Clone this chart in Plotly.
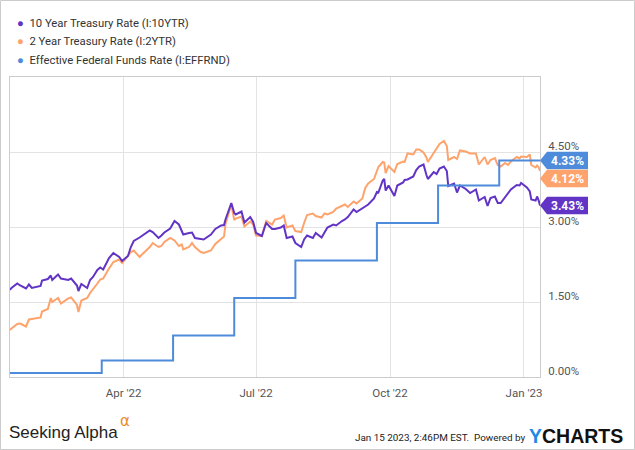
import plotly.graph_objects as go

# ---------------- data ----------------
t10_dates = ["2022-01-13","2022-01-14","2022-01-18","2022-01-20","2022-01-24","2022-01-26","2022-01-28",
 "2022-02-01","2022-02-03","2022-02-04","2022-02-08","2022-02-10","2022-02-11","2022-02-15","2022-02-17",
 "2022-02-22","2022-02-24","2022-02-28","2022-03-01","2022-03-03","2022-03-07","2022-03-09","2022-03-11",
 "2022-03-14","2022-03-16","2022-03-18","2022-03-22","2022-03-25","2022-03-29","2022-03-31","2022-04-04",
 "2022-04-06","2022-04-08","2022-04-12","2022-04-14","2022-04-19","2022-04-21","2022-04-25","2022-04-27",
 "2022-04-29","2022-05-03","2022-05-06","2022-05-09","2022-05-11","2022-05-12","2022-05-16","2022-05-18",
 "2022-05-20","2022-05-24","2022-05-26","2022-05-31","2022-06-02","2022-06-03","2022-06-07","2022-06-09",
 "2022-06-10","2022-06-13","2022-06-14","2022-06-16","2022-06-17","2022-06-21","2022-06-23","2022-06-27",
 "2022-06-29","2022-07-01","2022-07-05","2022-07-07","2022-07-08","2022-07-12","2022-07-14","2022-07-18",
 "2022-07-20","2022-07-22","2022-07-26","2022-07-28","2022-08-01","2022-08-03","2022-08-05","2022-08-09",
 "2022-08-11","2022-08-15","2022-08-17","2022-08-19","2022-08-23","2022-08-25","2022-08-29","2022-08-31",
 "2022-09-02","2022-09-06","2022-09-08","2022-09-12","2022-09-14","2022-09-16","2022-09-20","2022-09-22",
 "2022-09-23","2022-09-26","2022-09-27","2022-09-28","2022-09-30","2022-10-04","2022-10-06","2022-10-10",
 "2022-10-11","2022-10-13","2022-10-17","2022-10-19","2022-10-21","2022-10-24","2022-10-26","2022-10-27",
 "2022-10-31","2022-11-02","2022-11-04","2022-11-07","2022-11-09","2022-11-10","2022-11-14","2022-11-16",
 "2022-11-18","2022-11-22","2022-11-25","2022-11-29","2022-12-01","2022-12-05","2022-12-07","2022-12-09",
 "2022-12-12","2022-12-14","2022-12-16","2022-12-19","2022-12-21","2022-12-23","2022-12-27","2022-12-29",
 "2022-12-30","2023-01-03","2023-01-05","2023-01-06","2023-01-09","2023-01-10","2023-01-11","2023-01-12"]
t10_values = [1.74,1.78,1.87,1.83,1.77,1.85,1.78,
 1.81,1.82,1.93,1.96,2.03,1.94,2.05,1.97,
 1.94,1.97,1.83,1.72,1.86,1.78,1.94,2.00,
 2.14,2.19,2.15,2.38,2.48,2.40,2.32,2.42,
 2.60,2.72,2.79,2.83,2.93,2.90,2.78,2.83,
 2.89,2.97,3.12,3.05,2.91,2.85,2.88,2.89,
 2.78,2.76,2.75,2.85,2.92,2.96,3.03,3.04,
 3.15,3.37,3.48,3.28,3.25,3.31,3.09,3.20,
 3.10,2.88,2.82,3.00,3.08,2.96,2.96,2.99,
 3.03,2.78,2.81,2.68,2.60,2.75,2.83,2.78,
 2.88,2.79,2.90,2.99,3.05,3.03,3.12,3.15,
 3.20,3.35,3.30,3.37,3.41,3.45,3.57,3.70,
 3.69,3.93,3.96,3.73,3.83,3.62,3.83,3.89,
 3.94,3.95,4.01,4.14,4.21,4.25,4.04,3.96,
 4.10,4.06,4.17,4.21,4.12,3.82,3.87,3.69,
 3.83,3.76,3.68,3.75,3.53,3.60,3.42,3.58,
 3.61,3.48,3.48,3.60,3.68,3.75,3.84,3.83,
 3.88,3.79,3.71,3.55,3.53,3.61,3.54,3.43]

t2_dates = t10_dates
t2_values = [0.94,0.97,1.06,1.07,1.01,1.15,1.16,
 1.18,1.19,1.31,1.36,1.58,1.50,1.58,1.47,
 1.57,1.59,1.44,1.30,1.53,1.58,1.68,1.75,
 1.87,1.95,1.97,2.17,2.30,2.35,2.28,2.42,
 2.50,2.53,2.40,2.46,2.60,2.68,2.60,2.62,
 2.70,2.78,2.73,2.62,2.65,2.55,2.60,2.68,
 2.60,2.50,2.48,2.53,2.63,2.66,2.76,2.81,
 3.06,3.37,3.45,3.14,3.17,3.21,3.01,3.11,
 3.05,2.83,2.82,3.03,3.12,3.05,3.15,3.18,
 3.23,2.99,3.03,2.92,2.90,3.08,3.24,3.27,
 3.22,3.19,3.27,3.25,3.30,3.37,3.43,3.45,
 3.40,3.51,3.47,3.57,3.78,3.87,3.96,4.12,
 4.20,4.30,4.29,4.08,4.22,4.10,4.26,4.31,
 4.30,4.47,4.45,4.55,4.55,4.49,4.39,4.30,
 4.48,4.57,4.66,4.72,4.62,4.34,4.40,4.36,
 4.53,4.51,4.47,4.47,4.25,4.40,4.25,4.34,
 4.38,4.24,4.21,4.28,4.24,4.31,4.40,4.37,
 4.41,4.40,4.45,4.24,4.19,4.23,4.20,4.12]

ff_dates = ["2022-01-13","2022-03-17","2022-05-05","2022-06-16","2022-07-28","2022-09-22",
            "2022-11-03","2022-12-15","2023-01-12"]
ff_values = [0.08,0.33,0.83,1.58,2.33,3.08,3.83,4.33,4.33]

series_names = ["10 Year Treasury Rate (I:10YTR)", "2 Year Treasury Rate (I:2YTR)",
                "Effective Federal Funds Rate (I:EFFRND)"]
x_tickvals = ["2022-04-01", "2022-07-01", "2022-10-01", "2023-01-01"]
x_ticktext = ["Apr '22", "Jul '22", "Oct '22", "Jan '23"]
y_tickvals = [0, 1.5, 3.0, 4.5]
y_ticktext = ["0.00%", "1.50%", "3.00%", "4.50%"]

# ---------------- style ----------------
C10 = "#6234c6"
C2 = "#ffa36c"
CFF = "#4f8bdb"
W, H = 635, 450
ML, MR, MT, MB = 10, 95, 77, 73
PW, PH = W - ML - MR, H - MT - MB
YMAX = 6.0
FONT = "Roboto"

def px_x(px):
    return (px - ML) / PW

def px_y(py):
    return (H - MB - py) / PH

fig = go.Figure()
fig.add_trace(go.Scatter(x=t2_dates, y=t2_values, mode="lines", line=dict(color=C2, width=2),
                         name=series_names[1], hoverinfo="skip"))
fig.add_trace(go.Scatter(x=t10_dates, y=t10_values, mode="lines", line=dict(color=C10, width=2),
                         name=series_names[0], hoverinfo="skip"))
fig.add_trace(go.Scatter(x=ff_dates, y=ff_values, mode="lines", line=dict(color=CFF, width=2, shape="hv"),
                         name=series_names[2], hoverinfo="skip"))

annotations = []
shapes = []

# legend (custom)
for i, (nm, col) in enumerate(zip(series_names, [C10, C2, CFF])):
    yy = 23.5 + i * 18.5
    annotations.append(dict(xref="paper", yref="paper", x=px_x(15), y=px_y(yy), xanchor="left",
                            yanchor="middle", showarrow=False,
                            text=f'<span style="color:{col}">●</span>  {nm}',
                            font=dict(family=FONT, size=11.3, color="#333333")))

# end-value tags
ppu = PH / YMAX
tags = sorted([(t10_values[-1], C10), (t2_values[-1], C2), (ff_values[-1], CFF)], key=lambda t: -t[0])
prev = None
for val, col in tags:
    ypix = val * ppu
    if prev is not None and prev - ypix < 18:
        ypix = prev - 18
    prev = ypix
    off = ypix - val * ppu
    hh = 8.8
    path = (f"M 0 {off:.2f} L 7 {off + hh:.2f} L 48 {off + hh:.2f} "
            f"L 48 {off - hh:.2f} L 7 {off - hh:.2f} Z")
    shapes.append(dict(type="path", xref="paper", yref="y", xsizemode="pixel", ysizemode="pixel",
                       xanchor=1, yanchor=val, path=path, fillcolor=col, line=dict(width=0)))
    annotations.append(dict(xref="paper", yref="y", x=1, y=val, xanchor="center", yanchor="middle",
                            xshift=27, yshift=off, showarrow=False, text=f"<b>{val:.2f}%</b>",
                            font=dict(family=FONT, size=12, color="white")))

# outer border
shapes.append(dict(type="rect", xref="paper", yref="paper", x0=px_x(0.5), x1=px_x(W - 0.5),
                   y0=px_y(H - 0.5), y1=px_y(0.5), line=dict(color="#cccccc", width=1), layer="below"))

# footer
annotations.append(dict(xref="paper", yref="paper", x=px_x(7), y=px_y(432), xanchor="left", yanchor="middle",
                        showarrow=False, text="Seeking Alpha",
                        font=dict(family="Liberation Sans", size=17, color="#222222")))
annotations.append(dict(xref="paper", yref="paper", x=px_x(118), y=px_y(421), xanchor="left", yanchor="middle",
                        showarrow=False, text="α", font=dict(family="DejaVu Sans", size=15, color="#f08a24")))
annotations.append(dict(xref="paper", yref="paper", x=px_x(527), y=px_y(437), xanchor="right", yanchor="middle",
                        showarrow=False, text="Jan 15 2023, 2:46PM EST.  Powered by",
                        font=dict(family=FONT, size=9.9, color="#222222")))
annotations.append(dict(xref="paper", yref="paper", x=px_x(527), y=px_y(436), xanchor="left", yanchor="middle",
                        showarrow=False,
                        text='<b><span style="color:#1e88e5">Y</span>CHARTS</b>',
                        font=dict(family="Liberation Sans", size=19.5, color="#111111")))

fig.update_layout(
    width=W, height=H, margin=dict(l=ML, r=MR, t=MT, b=MB),
    paper_bgcolor="white", plot_bgcolor="white", showlegend=False,
    annotations=annotations, shapes=shapes,
    xaxis=dict(range=["2022-01-13", "2023-01-12"], tickvals=x_tickvals, ticktext=x_ticktext,
               showgrid=True, gridcolor="#e3e3e3", gridwidth=1, showline=True, mirror=True,
               linecolor="#cccccc", linewidth=1, zeroline=False, ticks="",
               ticklabelstandoff=5,
               tickfont=dict(family=FONT, size=11.5, color="#555555")),
    yaxis=dict(range=[0, YMAX], side="right", tickvals=y_tickvals, ticktext=y_ticktext,
               showgrid=True, gridcolor="#e3e3e3", gridwidth=1, showline=True, mirror=True,
               linecolor="#cccccc", linewidth=1, zeroline=False, ticks="",
               ticklabelshift=-6, ticklabelstandoff=5,
               tickfont=dict(family=FONT, size=11.5, color="#555555")),
)

fig.write_html("out.html")
